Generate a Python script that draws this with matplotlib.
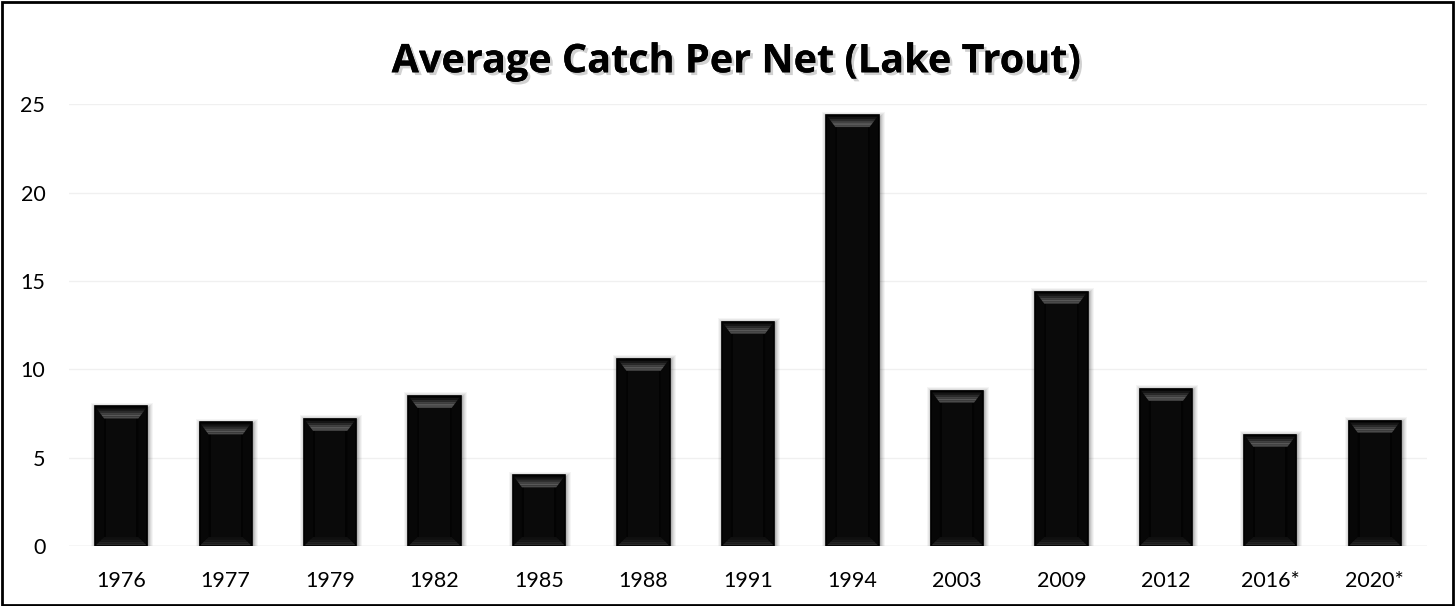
import matplotlib
matplotlib.use("Agg")
import matplotlib.pyplot as plt
from matplotlib.patches import Polygon, Rectangle
import matplotlib.patheffects as pe

categories = ['1976', '1977', '1979', '1982', '1985', '1988', '1991', '1994',
              '2003', '2009', '2012', '2016*', '2020*']
values = [7.9, 7.0, 7.2, 8.5, 4.0, 10.6, 12.7, 24.4, 8.8, 14.4, 8.9, 6.3, 7.1]
yticks = [0, 5, 10, 15, 20, 25]
title = 'Average Catch Per Net (Lake Trout)'

plt.rcParams['font.family'] = ['Lato', 'DejaVu Sans']

fig = plt.figure(figsize=(14.55, 6.06), dpi=100)
ax = fig.add_axes([0.0474, 0.099, 0.9334, 0.7286])

x = list(range(len(categories)))
bars = ax.bar(x, values, width=0.5, color='black', zorder=3)

ax.set_xlim(-0.5, len(categories) - 0.5)
ax.set_ylim(0, 25)

fig.canvas.draw()
bb = ax.get_window_extent()
px_x = bb.width / (len(categories))
px_y = bb.height / 25.0
dx = 9.0 / px_x
dy = 12.0 / px_y
dyb = 9.0 / px_y


def lerp(p, q, t):
    return (p[0] + (q[0] - p[0]) * t, p[1] + (q[1] - p[1]) * t)


for b in bars:
    x0 = b.get_x(); w = b.get_width(); h = b.get_height()
    x1 = x0 + w
    # soft shadow
    for k, a in [(5, 0.04), (4, 0.05), (3, 0.06), (2, 0.08), (1, 0.10)]:
        ex = k / px_x; ey = k / px_y
        ax.add_patch(Rectangle((x0 - ex + 1.0 / px_x, 0.0), w + 2 * ex, h + ey - 1.5 / px_y,
                               facecolor='black', edgecolor='none', alpha=a, zorder=2))
    # inner face
    ax.add_patch(Rectangle((x0, 0), w, h, facecolor='#030303', edgecolor='none', zorder=4))
    ax.add_patch(Rectangle((x0 + dx + 2 / px_x, dyb), w - 2 * dx - 4 / px_x, h - dy - dyb,
                           facecolor='#0a0a0a', edgecolor='none', zorder=4))
    # side facets
    ax.add_patch(Polygon([(x0, 0), (x0 + dx, dyb), (x0 + dx, h - dy), (x0, h)],
                         closed=True, facecolor='#070707', edgecolor='none', zorder=4))
    ax.add_patch(Polygon([(x1, 0), (x1 - dx, dyb), (x1 - dx, h - dy), (x1, h)],
                         closed=True, facecolor='#070707', edgecolor='none', zorder=4))
    # bottom facet with gradient
    ob0, ob1, ib1, ib0 = (x0, 0), (x1, 0), (x1 - dx, dyb), (x0 + dx, dyb)
    bcols = ['#2a2a2a', '#222222', '#181818', '#101010']
    n = len(bcols)
    for i, c in enumerate(bcols):
        t0, t1 = i / n, (i + 1) / n
        ax.add_patch(Polygon([lerp(ob0, ib0, t0), lerp(ob1, ib1, t0),
                              lerp(ob1, ib1, t1), lerp(ob0, ib0, t1)],
                             closed=True, facecolor=c, edgecolor='none', zorder=5))
    # top facet with gradient (dark at outer edge, lighter toward inner edge)
    ot0, ot1, it1, it0 = (x0, h), (x1, h), (x1 - dx, h - dy), (x0 + dx, h - dy)
    tcols = ['#050505', '#151515', '#2a2a2a', '#424242', '#585858', '#4a4a4a']
    n = len(tcols)
    for i, c in enumerate(tcols):
        t0, t1 = i / n, (i + 1) / n
        ax.add_patch(Polygon([lerp(ot0, it0, t0), lerp(ot1, it1, t0),
                              lerp(ot1, it1, t1), lerp(ot0, it0, t1)],
                             closed=True, facecolor=c, edgecolor='none', zorder=5))
    # outer edge
    ax.add_patch(Rectangle((x0, 0), w, h, facecolor='none', edgecolor='black',
                           linewidth=1.2, zorder=6))

ax.set_yticks(yticks)
ax.set_xticks(x)
ax.set_xticklabels(categories)
ax.tick_params(axis='both', length=0, labelsize=15.5, colors='black')
ax.tick_params(axis='x', pad=18)
ax.tick_params(axis='y', pad=17)
ax.yaxis.grid(True, color='#f0f0f0', linewidth=1.0, zorder=0)
ax.set_axisbelow(True)
for s in ax.spines.values():
    s.set_visible(False)
ax.axhline(0, color='#e2e2e2', linewidth=1.0, zorder=1)

fig.text(0.506, 0.898, title, ha='center', va='center', fontsize=28.5,
         fontweight='bold', color='black', family=['Open Sans', 'DejaVu Sans'],
         path_effects=[pe.withSimplePatchShadow(offset=(2, -2), shadow_rgbFace='#9a9a9a', alpha=0.45),
                       pe.Normal()])

fig.patches.append(Rectangle((0.0015, 0.002), 0.997, 0.995, transform=fig.transFigure,
                             facecolor='none', edgecolor='black', linewidth=2, zorder=10))

fig.savefig('out.png', dpi=100)
